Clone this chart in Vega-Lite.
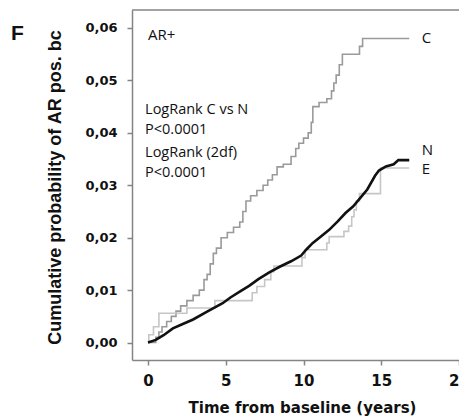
{
  "$schema": "https://vega.github.io/schema/vega-lite/v6.json",
  "width": 327,
  "height": 350,
  "autosize": {"type": "none"},
  "padding": {"left": 132, "top": 10, "right": 0, "bottom": 57},
  "background": "white",
  "config": {"view": {"stroke": null}, "axis": {"grid": false}},
  "datasets": {
    "curves": [
      {"g": "C", "t": 0, "p": 0},
      {"g": "C", "t": 0.5, "p": 0.001},
      {"g": "C", "t": 0.7, "p": 0.002},
      {"g": "C", "t": 0.9, "p": 0.003},
      {"g": "C", "t": 1.2, "p": 0.004},
      {"g": "C", "t": 1.5, "p": 0.005},
      {"g": "C", "t": 1.8, "p": 0.006},
      {"g": "C", "t": 2.1, "p": 0.007},
      {"g": "C", "t": 2.5, "p": 0.008},
      {"g": "C", "t": 2.9, "p": 0.009},
      {"g": "C", "t": 3.3, "p": 0.01},
      {"g": "C", "t": 3.6, "p": 0.012},
      {"g": "C", "t": 3.8, "p": 0.013},
      {"g": "C", "t": 4.0, "p": 0.015},
      {"g": "C", "t": 4.2, "p": 0.017},
      {"g": "C", "t": 4.4, "p": 0.018},
      {"g": "C", "t": 4.7, "p": 0.02},
      {"g": "C", "t": 5.1, "p": 0.021},
      {"g": "C", "t": 5.5, "p": 0.022},
      {"g": "C", "t": 5.9, "p": 0.023},
      {"g": "C", "t": 6.1, "p": 0.025},
      {"g": "C", "t": 6.3, "p": 0.027},
      {"g": "C", "t": 6.6, "p": 0.028},
      {"g": "C", "t": 7.0, "p": 0.029},
      {"g": "C", "t": 7.4, "p": 0.03},
      {"g": "C", "t": 7.7, "p": 0.031},
      {"g": "C", "t": 8.0, "p": 0.032},
      {"g": "C", "t": 8.3, "p": 0.0335},
      {"g": "C", "t": 8.7, "p": 0.034},
      {"g": "C", "t": 9.2, "p": 0.0355},
      {"g": "C", "t": 9.5, "p": 0.037},
      {"g": "C", "t": 9.7, "p": 0.038},
      {"g": "C", "t": 10.0, "p": 0.039},
      {"g": "C", "t": 10.3, "p": 0.04},
      {"g": "C", "t": 10.5, "p": 0.042},
      {"g": "C", "t": 10.6, "p": 0.045},
      {"g": "C", "t": 11.0, "p": 0.0458},
      {"g": "C", "t": 11.5, "p": 0.0465},
      {"g": "C", "t": 11.8, "p": 0.048},
      {"g": "C", "t": 11.95, "p": 0.0495},
      {"g": "C", "t": 12.1, "p": 0.051},
      {"g": "C", "t": 12.3, "p": 0.053},
      {"g": "C", "t": 12.5, "p": 0.055},
      {"g": "C", "t": 13.6, "p": 0.0565},
      {"g": "C", "t": 13.8, "p": 0.058},
      {"g": "C", "t": 16.8, "p": 0.058},
      {"g": "E", "t": 0, "p": 0},
      {"g": "E", "t": 0.05, "p": 0.0015},
      {"g": "E", "t": 0.35, "p": 0.003},
      {"g": "E", "t": 0.7, "p": 0.0056},
      {"g": "E", "t": 2.5, "p": 0.0066},
      {"g": "E", "t": 4.3, "p": 0.008},
      {"g": "E", "t": 6.7, "p": 0.0095},
      {"g": "E", "t": 7.0, "p": 0.0107},
      {"g": "E", "t": 7.5, "p": 0.012},
      {"g": "E", "t": 7.9, "p": 0.0135},
      {"g": "E", "t": 8.1, "p": 0.0146},
      {"g": "E", "t": 9.9, "p": 0.0162},
      {"g": "E", "t": 10.1, "p": 0.0177},
      {"g": "E", "t": 11.5, "p": 0.019},
      {"g": "E", "t": 11.65, "p": 0.0202},
      {"g": "E", "t": 12.6, "p": 0.0212},
      {"g": "E", "t": 12.9, "p": 0.0222},
      {"g": "E", "t": 13.1, "p": 0.024},
      {"g": "E", "t": 13.25, "p": 0.0253},
      {"g": "E", "t": 13.4, "p": 0.027},
      {"g": "E", "t": 13.6, "p": 0.0284},
      {"g": "E", "t": 14.95, "p": 0.0333},
      {"g": "E", "t": 16.8, "p": 0.0333},
      {"g": "N", "t": 0, "p": 0},
      {"g": "N", "t": 0.5, "p": 0.0005},
      {"g": "N", "t": 1.0, "p": 0.0014},
      {"g": "N", "t": 1.6, "p": 0.0027},
      {"g": "N", "t": 2.2, "p": 0.0035},
      {"g": "N", "t": 2.9, "p": 0.0044},
      {"g": "N", "t": 3.8, "p": 0.0059},
      {"g": "N", "t": 4.8, "p": 0.0075},
      {"g": "N", "t": 5.3, "p": 0.0086},
      {"g": "N", "t": 5.9, "p": 0.0097},
      {"g": "N", "t": 6.5, "p": 0.0108},
      {"g": "N", "t": 7.1, "p": 0.0121},
      {"g": "N", "t": 7.8, "p": 0.0134},
      {"g": "N", "t": 8.5, "p": 0.0145},
      {"g": "N", "t": 9.2, "p": 0.0155},
      {"g": "N", "t": 9.85, "p": 0.0166},
      {"g": "N", "t": 10.2, "p": 0.0178},
      {"g": "N", "t": 10.6, "p": 0.019},
      {"g": "N", "t": 11.1, "p": 0.0202},
      {"g": "N", "t": 11.65, "p": 0.0215},
      {"g": "N", "t": 12.2, "p": 0.0231},
      {"g": "N", "t": 12.7, "p": 0.0247},
      {"g": "N", "t": 13.2, "p": 0.026},
      {"g": "N", "t": 13.6, "p": 0.0274},
      {"g": "N", "t": 14.1, "p": 0.0292},
      {"g": "N", "t": 14.6, "p": 0.0318},
      {"g": "N", "t": 14.85, "p": 0.0328},
      {"g": "N", "t": 15.3, "p": 0.0336},
      {"g": "N", "t": 15.8, "p": 0.034},
      {"g": "N", "t": 16.1, "p": 0.0348},
      {"g": "N", "t": 16.8, "p": 0.0348}
    ],
    "notes": [
      {"label": "LogRank C vs N", "t": -0.19, "p": 0.04433},
      {"label": "P<0.0001", "t": -0.19, "p": 0.04055},
      {"label": "LogRank (2df)", "t": -0.19, "p": 0.03617},
      {"label": "P<0.0001", "t": -0.19, "p": 0.03236}
    ],
    "ends": [
      {"label": "AR+", "t": 0.0, "p": 0.0587},
      {"label": "C", "t": 17.6, "p": 0.0581},
      {"label": "N", "t": 17.6, "p": 0.0367},
      {"label": "E", "t": 17.6, "p": 0.0331}
    ],
    "panel": [
      {"label": "F", "t": -8.4, "p": 0.0588}
    ],
    "frame": [
      {"p": 0.06343}
    ]
  },
  "layer": [
    {
      "data": {"name": "frame"},
      "mark": {"type": "rule", "color": "#858585", "strokeWidth": 1.5},
      "encoding": {
        "y": {"field": "p", "type": "quantitative", "scale": {"domain": [-0.00333, 0.06343], "nice": false, "zero": false}}
      }
    },
    {
      "data": {"name": "curves"},
      "transform": [{"filter": "datum.g !== 'N'"}],
      "mark": {"type": "line", "interpolate": "step-after", "strokeWidth": 1.6},
      "encoding": {
        "x": {
          "field": "t", "type": "quantitative",
          "scale": {"domain": [-1.03, 20], "nice": false, "zero": false},
          "axis": {
            "title": "Time from baseline (years)",
            "values": [0, 5, 10, 15, 20],
            "domainColor": "#858585", "domainWidth": 1.5,
            "tickColor": "#858585", "tickWidth": 1.5, "tickSize": 5,
            "labelFont": "DejaVu Sans", "labelFontWeight": "bold", "labelFontSize": 15, "labelColor": "#111111",
            "labelPadding": 8, "labelOverlap": false, "labelBound": false, "labelFlush": false,
            "titleFont": "DejaVu Sans", "titleFontWeight": "bold", "titleFontSize": 15, "titleColor": "#111111",
            "titleX": 170, "titleY": 52, "titleBaseline": "alphabetic", "titleAnchor": "middle"
          }
        },
        "y": {
          "field": "p", "type": "quantitative",
          "scale": {"domain": [-0.00333, 0.06343], "nice": false, "zero": false},
          "axis": {
            "title": "Cumulative probability of AR pos. bc",
            "values": [0, 0.01, 0.02, 0.03, 0.04, 0.05, 0.06],
            "labelExpr": "replace(format(datum.value, '.2f'), '.', ',')",
            "domainColor": "#858585", "domainWidth": 1.5,
            "tickColor": "#858585", "tickWidth": 1.5, "tickSize": 5,
            "labelFont": "DejaVu Sans", "labelFontWeight": "bold", "labelFontSize": 13, "labelColor": "#111111",
            "labelPadding": 10, "labelOverlap": false, "labelBound": false, "labelFlush": false,
            "titleFont": "Liberation Sans", "titleFontWeight": "bold", "titleFontSize": 18, "titleColor": "#111111",
            "titleAngle": -90, "titleX": -77, "titleY": 177, "titleBaseline": "middle", "titleAnchor": "middle"
          }
        },
        "color": {
          "field": "g", "type": "nominal",
          "scale": {"domain": ["C", "E", "N"], "range": ["#9a9a9a", "#c6c6c6", "#111111"]},
          "legend": null
        }
      }
    },
    {
      "data": {"name": "curves"},
      "transform": [{"filter": "datum.g === 'N'"}],
      "mark": {"type": "line", "interpolate": "linear", "strokeWidth": 2.6, "color": "#111111"},
      "encoding": {
        "x": {"field": "t", "type": "quantitative"},
        "y": {"field": "p", "type": "quantitative"}
      }
    },
    {
      "data": {"name": "notes"},
      "mark": {"type": "text", "align": "left", "baseline": "middle", "font": "Open Sans", "fontSize": 14.5, "color": "#111111"},
      "encoding": {
        "x": {"field": "t", "type": "quantitative"},
        "y": {"field": "p", "type": "quantitative"},
        "text": {"field": "label"}
      }
    },
    {
      "data": {"name": "ends"},
      "mark": {"type": "text", "align": "left", "baseline": "middle", "font": "Open Sans", "fontSize": 15, "color": "#111111"},
      "encoding": {
        "x": {"field": "t", "type": "quantitative"},
        "y": {"field": "p", "type": "quantitative"},
        "text": {"field": "label"}
      }
    },
    {
      "data": {"name": "panel"},
      "mark": {"type": "text", "align": "center", "baseline": "middle", "font": "Liberation Sans", "fontWeight": "bold", "fontSize": 21, "color": "#111111"},
      "encoding": {
        "x": {"field": "t", "type": "quantitative"},
        "y": {"field": "p", "type": "quantitative"},
        "text": {"field": "label"}
      }
    }
  ]
}
